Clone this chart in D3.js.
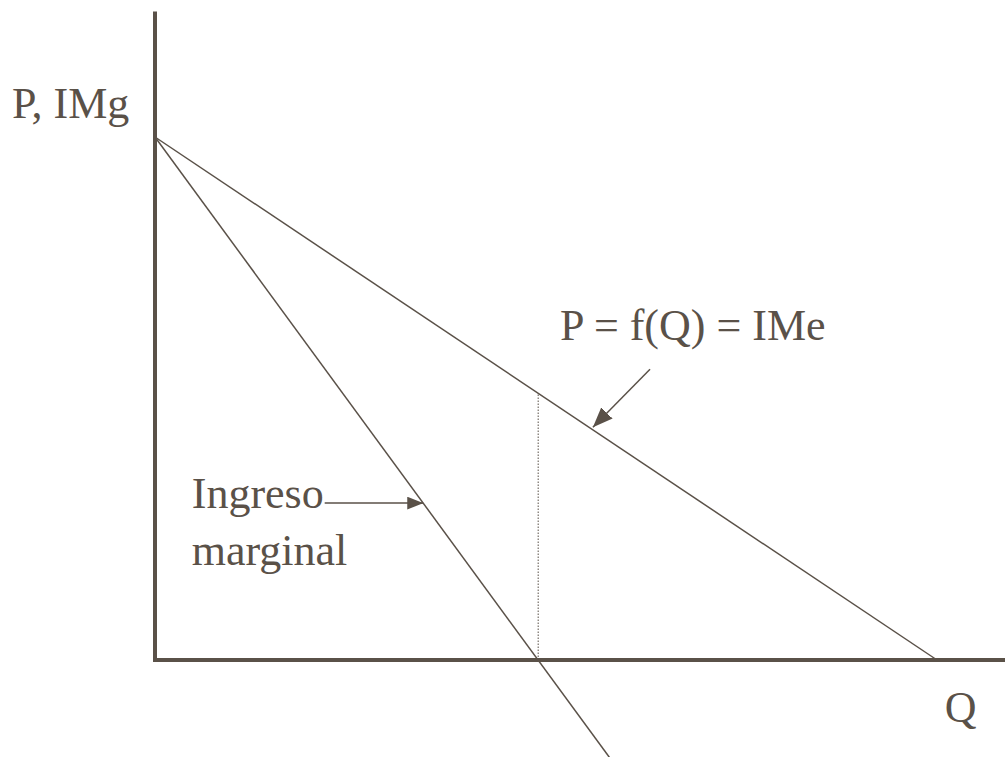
<!DOCTYPE html>
<html>
<head>
<meta charset="utf-8">
<script src="https://cdn.jsdelivr.net/npm/d3@7"></script>
<style>
  html, body { margin: 0; padding: 0; background: #fff; }
  svg { display: block; }
  text { font-family: "Times New Roman", Times, "Liberation Serif", "DejaVu Serif", serif; fill: #5a5148; }
</style>
</head>
<body>
<svg id="chart" width="1005" height="757"></svg>
<script>
'use strict';

// demand (average revenue) and marginal revenue, in Q / P units
var demand = [[0, 10], [10, 0]];
var marginal = [[0, 10], [5.81, -1.86]];
var qStar = 4.9;              // where marginal revenue crosses zero
var pStar = 10 - qStar;       // price on demand at qStar

var axisEnds = {q: 10.87, p: 12.4};

var labels = [
  {text: 'P, IMg', q: -1.83, p: 10.36},
  {text: 'P = f(Q) = IMe', q: 5.18, p: 6.12},
  {text: 'Ingreso', q: 0.47, p: 2.9},
  {text: 'marginal', q: 0.47, p: 1.82},
  {text: 'Q', q: 10.1, p: -1.19}
];

var arrows = [
  {from: [6.33, 5.56], to: [5.6, 4.45], head: 20},
  {from: [2.17, 3.0], to: [3.43, 3.0], head: 16}
];

var color = '#5a5148';
var svg = d3.select('#chart');

var x = d3.scaleLinear().domain([0, 10]).range([155, 937]);
var y = d3.scaleLinear().domain([0, 10]).range([660, 137]);

var defs = svg.append('defs');
[16, 20].forEach(function (s) {
  defs.append('marker')
    .attr('id', 'head' + s)
    .attr('viewBox', '0 0 10 10')
    .attr('refX', 10).attr('refY', 5)
    .attr('markerWidth', s).attr('markerHeight', s * 0.8)
    .attr('markerUnits', 'userSpaceOnUse')
    .attr('orient', 'auto')
    .attr('preserveAspectRatio', 'none')
    .append('path')
    .attr('d', 'M0,0 L10,5 L0,10 Z')
    .attr('fill', color);
});

var line = d3.line()
  .x(function (d) { return x(d[0]); })
  .y(function (d) { return y(d[1]); });

// dotted guide
svg.append('line')
  .attr('x1', x(qStar)).attr('x2', x(qStar))
  .attr('y1', y(0)).attr('y2', y(pStar))
  .attr('stroke', color).attr('stroke-width', 1)
  .attr('stroke-dasharray', '1.5,1.5');

svg.selectAll('.curve')
  .data([demand, marginal]).enter().append('path')
  .attr('class', 'curve')
  .attr('d', line)
  .attr('fill', 'none')
  .attr('stroke', color)
  .attr('stroke-width', 1.5);

// axes
svg.append('path')
  .attr('d', line([[0, axisEnds.p], [0, 0], [axisEnds.q, 0]]))
  .attr('fill', 'none')
  .attr('stroke', color)
  .attr('stroke-width', 4);

svg.selectAll('.arrow')
  .data(arrows).enter().append('line')
  .attr('class', 'arrow')
  .attr('x1', function (d) { return x(d.from[0]); })
  .attr('y1', function (d) { return y(d.from[1]); })
  .attr('x2', function (d) { return x(d.to[0]); })
  .attr('y2', function (d) { return y(d.to[1]); })
  .attr('stroke', color)
  .attr('stroke-width', 1.5)
  .attr('marker-end', function (d) { return 'url(#head' + d.head + ')'; });

svg.selectAll('.label')
  .data(labels).enter().append('text')
  .attr('class', 'label')
  .attr('x', function (d) { return x(d.q); })
  .attr('y', function (d) { return y(d.p); })
  .attr('font-size', 44)
  .text(function (d) { return d.text; });
</script>
</body>
</html>
